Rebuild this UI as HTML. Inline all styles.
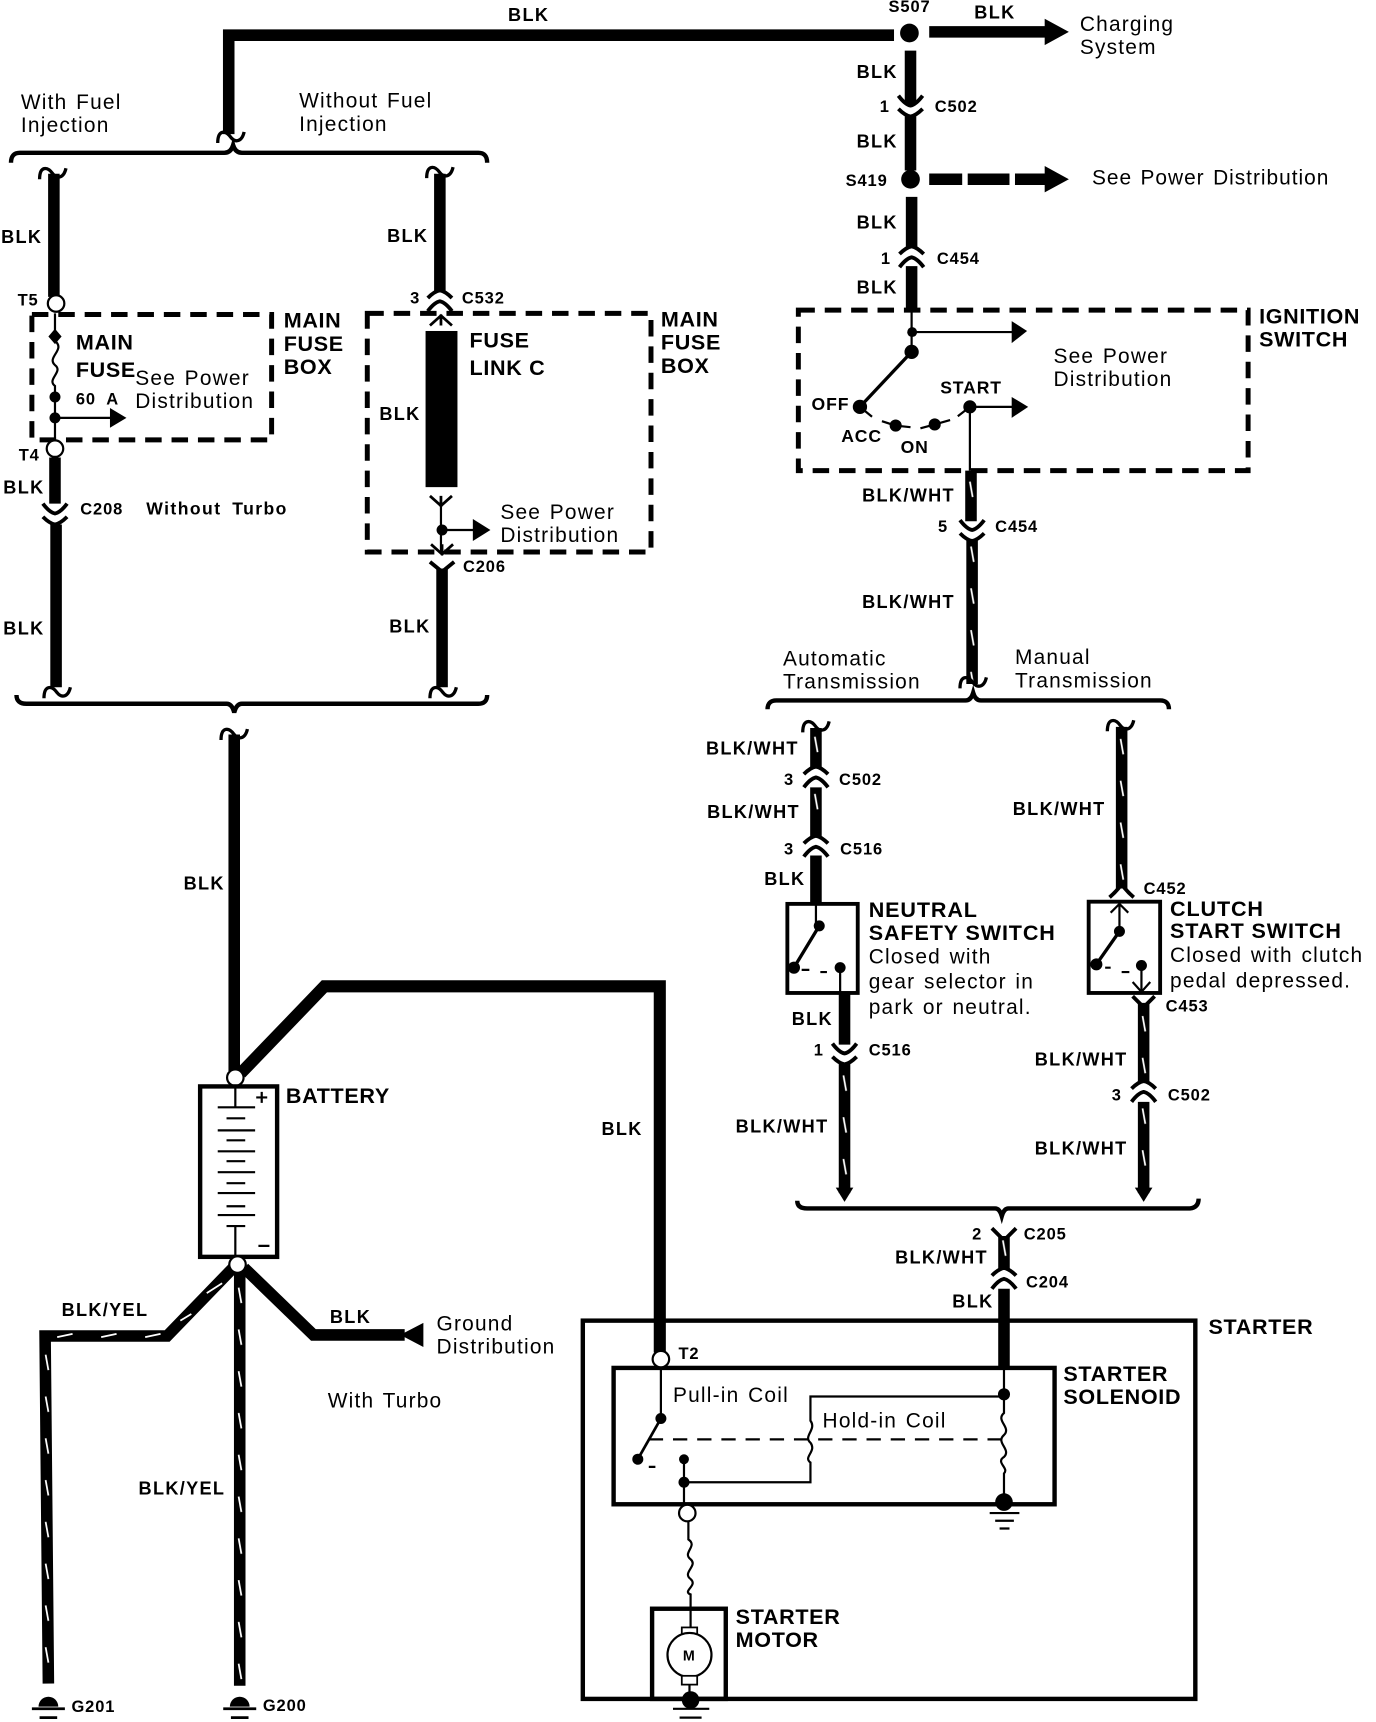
<!DOCTYPE html>
<html><head><meta charset="utf-8"><style>
html,body{margin:0;padding:0;background:#fff}
svg{display:block}
text{font-family:"Liberation Sans",sans-serif;fill:#000;stroke:none}
.r{font-size:19px;letter-spacing:1.1px;word-spacing:1.5px}
.b{font-size:16.5px;font-weight:bold;letter-spacing:1.2px}
.c{font-size:15px;font-weight:bold;letter-spacing:.8px}
.h{font-size:19.6px;font-weight:bold;letter-spacing:.6px}
.w{fill:none;stroke:#000;stroke-width:10.5}
.m{fill:none;stroke:#000;stroke-width:4}
.n{fill:none;stroke:#000;stroke-width:2}
.d{fill:none;stroke:#000;stroke-width:4.5;stroke-dasharray:15 9}
.o{fill:#fff;stroke:#000;stroke-width:2}
</style></head><body>
<svg width="1376" height="1722" viewBox="0 0 1251.3 1566" preserveAspectRatio="none" xmlns="http://www.w3.org/2000/svg">
<defs>
<path id="c" d="M-11-9Q-5-1 0 0Q5-1 11-9M-11 3Q-5 9 0 10Q5 9 11 3" fill="none" stroke="#000" stroke-width="3.5"/>
<path id="f" d="M-12 7C-12-5-5-5 0 2C4 7 10 6 12-3" fill="none" stroke="#000" stroke-width="3"/>
<path id="y" d="M-10 0L0 9L10 0M0 0V10" fill="none" stroke="#000" stroke-width="2.5"/>
<g id="g"><path d="M-9 0A9 9 0 0 1 9 0Z"/><path d="M-15 2H15M-8 10H8" fill="none" stroke="#000" stroke-width="2.5"/></g>
<pattern id="pv" width="12" height="38" patternUnits="userSpaceOnUse"><path d="M5 6L7.5 20" stroke="#fff" stroke-width="1.6" fill="none"/></pattern>
</defs>
<rect width="1252" height="1566" fill="#fff"/>

<!-- top harness -->
<path class="w" d="M208 122V32H813"/>
<circle cx="827" cy="30" r="8.5"/>
<path class="w" d="M845 29H952"/><polygon points="950,17 972,29 950,41"/>
<path class="w" d="M828 46V95M828 106V155"/>
<use href="#c" x="828" y="96"/>
<circle cx="828" cy="163" r="8.5"/>
<path class="w" d="M845 163H875M880 163H918M923 163H952"/><polygon points="950,151 972,163 950,175"/>
<path class="w" d="M829 179V225M829 242V284"/>
<use href="#c" transform="translate(829,234) scale(1,-1)"/>

<!-- left fuse branch -->
<path d="M10 148Q10 139 18 139H204Q210 139 212 132Q214 139 220 139H435Q443 139 443 148" class="m"/>
<use href="#f" x="210" y="123"/>
<use href="#f" x="48" y="156"/>
<use href="#f" x="400" y="155"/>
<path class="w" d="M49 158V270M400 158V266"/>
<circle class="o" cx="51" cy="276" r="7.5"/>
<rect class="d" x="29" y="286" width="218" height="114"/>
<path class="n" d="M50 285V310C60 318 42 325 50 332C58 338 42 345 50 351V400"/>
<polygon points="50,299 56,306 50,313 44,306"/>
<circle cx="50" cy="361" r="5"/><circle cx="50" cy="380" r="5"/>
<path class="n" d="M50 380H102"/><polygon points="100,371 115,380 100,389"/>
<circle class="o" cx="50" cy="408" r="7.5"/>
<path class="w" d="M50 416V458M51 477V625"/>
<use href="#c" x="50" y="467"/>
<use href="#f" x="52" y="628"/>

<!-- centre fuse branch -->
<use href="#c" transform="translate(400,274) scale(1,-1)"/>
<rect class="d" x="334" y="285" width="258" height="217"/>
<use href="#y" transform="translate(401,296) scale(1,-1)"/>
<rect x="387" y="301" width="29" height="142"/>
<use href="#y" x="401" y="451"/>
<path class="n" d="M401 458V503"/>
<circle cx="402" cy="482" r="5"/>
<path class="n" d="M402 482H432"/><polygon points="430,472 446,482 430,492"/>
<use href="#y" x="402" y="495"/>
<path d="M391 511L402 520L413 511" fill="none" stroke="#000" stroke-width="3.5"/>
<path class="w" d="M402 517V625"/>
<use href="#f" x="403" y="628"/>

<!-- lower bracket left & main wire -->
<path class="m" d="M15 632Q15 640 24 640H206Q211 640 213 648Q215 640 220 640H435Q443 640 443 632"/>
<use href="#f" x="213" y="666"/>
<path class="w" d="M213 668V974"/>
<path d="M219 976L295 897H600V1230" fill="none" stroke="#000" stroke-width="11"/>
<circle class="o" cx="214" cy="980" r="7.5"/>

<!-- battery -->
<rect class="m" x="182" y="988" width="70" height="155"/>
<path class="n" d="M214 988V1007M198 1007H232M198 1028H232M198 1047H232M198 1066H232M198 1085H232M198 1105H232M206 1017H223M206 1037H223M206 1056H223M206 1076H223M206 1097H223M206 1115H223M214 1115V1143"/>
<path d="M233 998H243M238 993V1003M235 1133H245" fill="none" stroke="#000" stroke-width="2"/>

<!-- battery outputs -->
<path class="w" d="M212 1153L152 1215H41L44 1531"/>
<path d="M52 1216L66 1213M92 1216L106 1213M132 1216L146 1213M164 1201L174 1195M188 1176L202 1167" stroke="#fff" stroke-width="1.6" fill="none"/>
<rect transform="translate(36.5,1226)" width="12" height="300" fill="url(#pv)"/>
<path class="w" d="M218 1153V1533"/>
<rect transform="translate(212,1165)" width="12" height="365" fill="url(#pv)"/>
<path class="w" d="M222 1153L285 1214H368"/>
<polygon points="364,1214 385,1203 385,1225"/>
<circle class="o" cx="216" cy="1150" r="7.5"/>
<use href="#g" x="44" y="1552"/>
<use href="#g" x="218" y="1552"/>

<!-- ignition switch -->
<rect class="d" x="726" y="282" width="409" height="146"/>
<path class="n" d="M829 282V322M829 302H921M882 370V428M882 370H921"/>
<circle cx="829.5" cy="302" r="4.5"/>
<polygon points="920,292 934,301 920,312"/>
<polygon points="920,361 935,370 920,380"/>
<circle cx="829" cy="320" r="6.5"/>
<path d="M829 320L782 370" fill="none" stroke="#000" stroke-width="3"/>
<circle cx="782" cy="370" r="6.5"/>
<circle cx="814.5" cy="387" r="5.5"/><circle cx="850" cy="386" r="5.5"/><circle cx="882" cy="370" r="6"/>
<path class="n" d="M782 370L793 379M802 383L814 387L828 388.5M837 389.5L850 386L864 382M871 378.5L882 370"/>
<path class="w" d="M883 428V474M884 491V622"/>
<rect transform="translate(877,432)" width="12" height="42" fill="url(#pv)"/>
<rect transform="translate(878,491)" width="12" height="128" fill="url(#pv)"/>
<use href="#c" x="884" y="482"/>
<use href="#f" x="885" y="619"/>
<path class="m" d="M698 645Q698 637 706 637H878Q883 637 885 630Q887 637 892 637H1055Q1063 637 1063 645"/>

<!-- neutral safety branch -->
<use href="#f" x="742" y="659"/>
<path class="w" d="M742 662V699M742 716V762M742 778V822"/>
<rect transform="translate(736,664)" width="12" height="35" fill="url(#pv)"/>
<rect transform="translate(736,716)" width="12" height="46" fill="url(#pv)"/>
<use href="#c" transform="translate(742,707) scale(1,-1)"/>
<use href="#c" transform="translate(742,770) scale(1,-1)"/>
<rect class="m" x="716" y="822" width="64" height="81" style="stroke-width:3.5"/>
<path class="n" d="M742 822V842M764 880V903"/>
<path d="M745 842L722 880" fill="none" stroke="#000" stroke-width="3"/>
<circle cx="745" cy="842" r="5"/><circle cx="722" cy="880" r="5.5"/><circle cx="764" cy="880" r="5"/>
<path class="n" d="M729 882H736M746 884H752"/>
<path class="w" d="M768 903V950M768 967V1085"/>
<rect transform="translate(762,972)" width="12" height="110" fill="url(#pv)"/>
<use href="#c" x="768" y="958"/>
<path d="M760 1080L768 1093L776 1080Z"/>

<!-- clutch branch -->
<use href="#f" x="1019" y="658"/>
<path class="w" d="M1020 661V808"/>
<rect transform="translate(1014,666)" width="12" height="136" fill="url(#pv)"/>
<path d="M1009 816Q1016 810 1020 804Q1024 810 1031 816" fill="none" stroke="#000" stroke-width="3.5"/>
<rect class="m" x="990" y="820" width="65" height="83" style="stroke-width:3.5"/>
<path d="M1010 830L1018 822L1026 830M1018 822V847M1038 878V902M1030 893L1038 902L1046 893" class="n"/>
<path d="M1018 847L997 877" fill="none" stroke="#000" stroke-width="3"/>
<circle cx="1018" cy="847" r="5"/><circle cx="997" cy="877" r="5.5"/><circle cx="1038" cy="878" r="5"/>
<path class="n" d="M1005 880H1010M1020 884H1027"/>
<path d="M1030 906L1040 916L1050 906" fill="none" stroke="#000" stroke-width="3.5"/>
<path class="w" d="M1040 912V985M1040 1002V1085"/>
<rect transform="translate(1034,918)" width="12" height="67" fill="url(#pv)"/>
<rect transform="translate(1034,1002)" width="12" height="78" fill="url(#pv)"/>
<use href="#c" transform="translate(1040,993) scale(1,-1)"/>
<path d="M1032 1080L1040 1093L1048 1080Z"/>

<!-- lower right bracket -->
<path class="m" d="M725 1092Q725 1099 734 1099H905Q909 1099 911 1106Q913 1099 917 1099H1082Q1090 1098 1090 1090"/>
<path d="M902 1117L913 1128L924 1117" fill="none" stroke="#000" stroke-width="3.5"/>
<path class="w" d="M913 1124V1155M913 1172V1244"/>
<rect transform="translate(907,1122)" width="12" height="33" fill="url(#pv)"/>
<use href="#c" transform="translate(913,1163) scale(1,-1)"/>

<!-- starter -->
<rect class="m" x="530" y="1201" width="557" height="344"/>
<rect class="m" x="558" y="1244" width="401" height="124"/>
<circle class="o" cx="601" cy="1236" r="7.5"/>
<path class="n" d="M601 1244V1287"/>
<circle cx="601" cy="1290" r="5"/>
<path d="M601 1290L580 1327" fill="none" stroke="#000" stroke-width="2.5"/>
<circle cx="580" cy="1327" r="5"/><circle cx="622" cy="1327" r="4.5"/><circle cx="622" cy="1348" r="5"/>
<path class="n" d="M590 1334H596M622 1327V1368M622 1348H737V1330C730 1325 743 1320 737 1312C730 1306 743 1300 737 1292V1270H913M913 1244V1285C905 1292 920 1298 913 1305C905 1312 920 1318 913 1325C905 1330 918 1335 913 1340V1362"/>
<path class="n" d="M590 1309H912" stroke-dasharray="13 9"/>
<circle cx="913" cy="1268" r="5.5"/>
<circle cx="913" cy="1366" r="8"/>
<path class="n" d="M900 1376H927M905 1383H922M909 1390H918"/>
<circle class="o" cx="625" cy="1376" r="7.5"/>
<path class="n" d="M626 1384V1400C635 1406 620 1412 628 1418C635 1424 620 1430 628 1436C635 1442 620 1447 628 1450V1490"/>
<rect class="m" x="593" y="1463" width="67" height="82"/>
<rect x="620" y="1480" width="14" height="8" fill="#fff" stroke="#000" stroke-width="1.6"/>
<circle cx="627" cy="1505" r="20" fill="#fff" stroke="#000" stroke-width="2"/>
<rect x="620" y="1524" width="14" height="8" fill="#fff" stroke="#000" stroke-width="1.6"/>
<path class="n" d="M627 1532V1545"/>
<circle cx="628" cy="1546" r="8"/>
<path class="n" d="M612 1554H645M618 1562H638"/>

<!-- text -->
<text class="b" x="462" y="19">BLK</text>
<text class="c" x="808" y="11">S507</text>
<text class="b" x="886" y="17">BLK</text>
<text class="r" x="982" y="28">Charging</text>
<text class="r" x="982" y="49">System</text>
<text class="b" x="779" y="71">BLK</text>
<text class="c" x="800" y="102">1</text>
<text class="c" x="850" y="102">C502</text>
<text class="b" x="779" y="134">BLK</text>
<text class="c" x="769" y="169">S419</text>
<text class="r" x="993" y="168" style="letter-spacing:.9px">See Power Distribution</text>
<text class="b" x="779" y="208">BLK</text>
<text class="c" x="801" y="240">1</text>
<text class="c" x="852" y="240">C454</text>
<text class="b" x="779" y="267">BLK</text>

<text class="r" x="19" y="99">With Fuel</text>
<text class="r" x="19" y="120">Injection</text>
<text class="r" x="272" y="98">Without Fuel</text>
<text class="r" x="272" y="119">Injection</text>
<text class="b" x="1" y="221">BLK</text>
<text class="b" x="352" y="220">BLK</text>
<text class="c" x="16" y="278">T5</text>
<text class="c" x="373" y="276">3</text>
<text class="c" x="420" y="276">C532</text>
<text class="h" x="258" y="298">MAIN</text>
<text class="h" x="258" y="319">FUSE</text>
<text class="h" x="258" y="340">BOX</text>
<text class="h" x="601" y="297">MAIN</text>
<text class="h" x="601" y="318">FUSE</text>
<text class="h" x="601" y="339">BOX</text>
<text class="h" x="69" y="318">MAIN</text>
<text class="h" x="69" y="343">FUSE</text>
<text class="c" x="69" y="368" style="word-spacing:5px">60 A</text>
<text class="r" x="123" y="350">See Power</text>
<text class="r" x="123" y="371">Distribution</text>
<text class="c" x="17" y="419">T4</text>
<text class="b" x="3" y="449">BLK</text>
<text class="c" x="73" y="468">C208</text>
<text class="c" x="133" y="468" style="font-size:16px;letter-spacing:1.3px;word-spacing:4px">Without Turbo</text>
<text class="b" x="3" y="577">BLK</text>
<text class="h" x="427" y="316">FUSE</text>
<text class="h" x="427" y="341">LINK C</text>
<text class="b" x="345" y="382">BLK</text>
<text class="r" x="455" y="472">See Power</text>
<text class="r" x="455" y="493">Distribution</text>
<text class="c" x="421" y="520">C206</text>
<text class="b" x="354" y="575">BLK</text>
<text class="b" x="167" y="809">BLK</text>

<text class="h" x="1145" y="294">IGNITION</text>
<text class="h" x="1145" y="315">SWITCH</text>
<text class="r" x="958" y="330">See Power</text>
<text class="r" x="958" y="351">Distribution</text>
<text class="c" x="738" y="373" style="font-size:16px">OFF</text>
<text class="c" x="855" y="358" style="font-size:16px">START</text>
<text class="c" x="765" y="402" style="font-size:16px">ACC</text>
<text class="c" x="819" y="412" style="font-size:16px">ON</text>
<text class="b" x="784" y="456">BLK/WHT</text>
<text class="c" x="853" y="484">5</text>
<text class="c" x="905" y="484">C454</text>
<text class="b" x="784" y="553">BLK/WHT</text>
<text class="r" x="712" y="605">Automatic</text>
<text class="r" x="712" y="626">Transmission</text>
<text class="r" x="923" y="604">Manual</text>
<text class="r" x="923" y="625">Transmission</text>

<text class="b" x="642" y="686">BLK/WHT</text>
<text class="c" x="713" y="714">3</text>
<text class="c" x="763" y="714">C502</text>
<text class="b" x="643" y="744">BLK/WHT</text>
<text class="c" x="713" y="777">3</text>
<text class="c" x="764" y="777">C516</text>
<text class="b" x="695" y="805">BLK</text>
<text class="h" x="790" y="834" style="letter-spacing:.8px">NEUTRAL</text>
<text class="h" x="790" y="855" style="letter-spacing:.8px">SAFETY SWITCH</text>
<text class="r" x="790" y="876">Closed with</text>
<text class="r" x="790" y="899">gear selector in</text>
<text class="r" x="790" y="922">park or neutral.</text>
<text class="b" x="720" y="932">BLK</text>
<text class="c" x="740" y="960">1</text>
<text class="c" x="790" y="960">C516</text>
<text class="b" x="669" y="1030">BLK/WHT</text>

<text class="b" x="921" y="741">BLK/WHT</text>
<text class="c" x="1040" y="813">C452</text>
<text class="h" x="1064" y="833" style="letter-spacing:.8px">CLUTCH</text>
<text class="h" x="1064" y="853" style="letter-spacing:.8px">START SWITCH</text>
<text class="r" x="1064" y="875">Closed with clutch</text>
<text class="r" x="1064" y="898">pedal depressed.</text>
<text class="c" x="1060" y="920">C453</text>
<text class="b" x="941" y="969">BLK/WHT</text>
<text class="c" x="1011" y="1001">3</text>
<text class="c" x="1062" y="1001">C502</text>
<text class="b" x="941" y="1050">BLK/WHT</text>

<text class="c" x="884" y="1127">2</text>
<text class="c" x="931" y="1127">C205</text>
<text class="b" x="814" y="1149">BLK/WHT</text>
<text class="c" x="933" y="1171">C204</text>
<text class="b" x="866" y="1189">BLK</text>
<text class="h" x="1099" y="1213">STARTER</text>
<text class="h" x="967" y="1256">STARTER</text>
<text class="h" x="967" y="1277">SOLENOID</text>
<text class="b" x="547" y="1032">BLK</text>
<text class="c" x="617" y="1236">T2</text>
<text class="r" x="612" y="1275">Pull-in Coil</text>
<text class="r" x="748" y="1298">Hold-in Coil</text>
<text class="h" x="669" y="1477">STARTER</text>
<text class="h" x="669" y="1498">MOTOR</text>
<text class="c" x="621" y="1510" style="font-size:13px">M</text>

<text class="h" x="260" y="1003">BATTERY</text>
<text class="b" x="56" y="1197">BLK/YEL</text>
<text class="b" x="300" y="1203">BLK</text>
<text class="r" x="397" y="1210">Ground</text>
<text class="r" x="397" y="1231">Distribution</text>
<text class="r" x="298" y="1280">With Turbo</text>
<text class="b" x="126" y="1359">BLK/YEL</text>
<text class="c" x="65" y="1557">G201</text>
<text class="c" x="239" y="1556">G200</text>
</svg>
</body></html>
